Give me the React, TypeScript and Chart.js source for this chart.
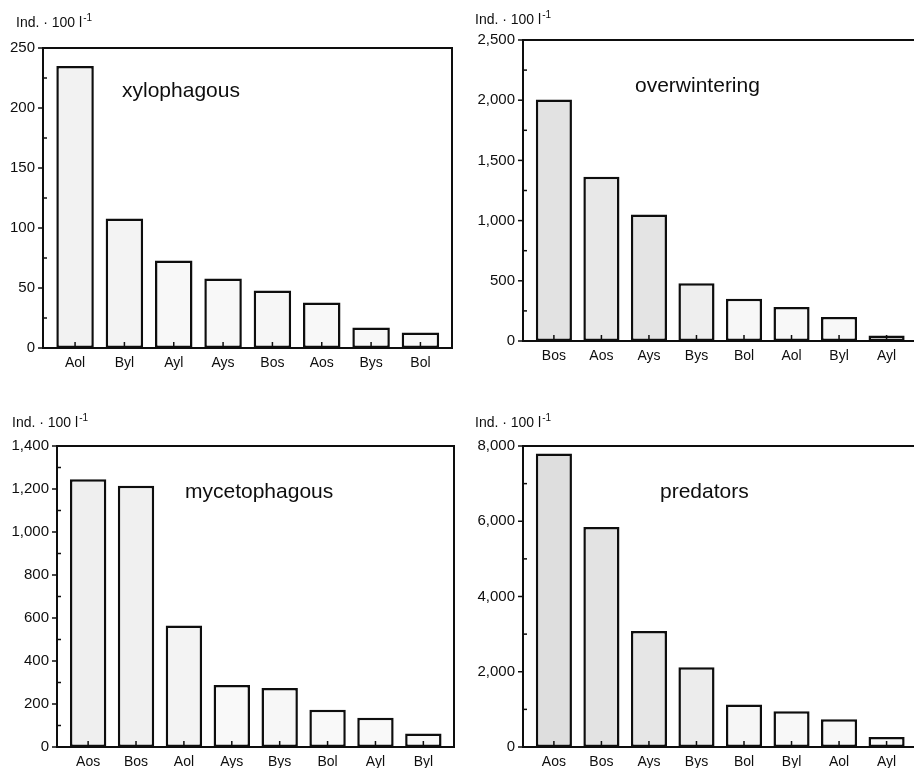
import React, { useEffect, useRef } from "react";
import { Chart, registerables } from "chart.js";
Chart.register(...registerables);

// ---- data ----
const xyloLabels = ["Aol", "Byl", "Ayl", "Ays", "Bos", "Aos", "Bys", "Bol"];
const xyloValues = [235, 108, 73, 58, 48, 38, 17, 13];

const overLabels = ["Bos", "Aos", "Ays", "Bys", "Bol", "Aol", "Byl", "Ayl"];
const overValues = [2005, 1365, 1050, 480, 350, 283, 200, 45];

const mycoLabels = ["Aos", "Bos", "Aol", "Ays", "Bys", "Bol", "Ayl", "Byl"];
const mycoValues = [1245, 1215, 565, 288, 275, 173, 136, 63];

const predLabels = ["Aos", "Bos", "Ays", "Bys", "Bol", "Byl", "Aol", "Ayl"];
const predValues = [7800, 5850, 3080, 2120, 1130, 950, 740, 265];

// ---- styles ----
const xyloColors = ["#f2f2f2", "#f3f3f3", "#f8f8f8", "#f8f8f8", "#f6f6f6", "#f8f8f8", "#f8f8f8", "#f8f8f8"];
const overColors = ["#e2e2e2", "#e8e8e8", "#e4e4e4", "#eeeeee", "#f7f7f7", "#f8f8f8", "#f8f8f8", "#f8f8f8"];
const mycoColors = ["#efefef", "#f0f0f0", "#f3f3f3", "#f9f9f9", "#f7f7f7", "#f9f9f9", "#f9f9f9", "#f9f9f9"];
const predColors = ["#dedede", "#e3e3e3", "#e6e6e6", "#ececec", "#f6f6f6", "#f8f8f8", "#f8f8f8", "#f8f8f8"];

const FONT = '"Liberation Sans", Arial, Helvetica, sans-serif';
const INK = "#0e0e0e";

type PanelProps = {
  labels: string[];
  values: number[];
  colors: string[];
  title: string;
  yMax: number;
  yMajor: number;
  comma: boolean;
  box: { left: number; top: number; width: number; height: number };
  area: { left: number; top: number; right: number; bottom: number };
  titleOff: { dx: number; dy: number };
  unitPos: { x: number; y: number };
};

function Panel(p: PanelProps) {
  const ref = useRef<HTMLCanvasElement | null>(null);
  useEffect(() => {
    const canvas = ref.current;
    if (!canvas) return;
    const yW = p.area.left;
    const xH = p.box.height - p.area.bottom;
    const decor = {
      id: "decor",
      afterDraw(chart: any) {
        const { ctx, chartArea: a } = chart;
        const ys = chart.scales.y;
        const xs = chart.scales.x;
        ctx.save();
        ctx.strokeStyle = INK;
        ctx.lineWidth = 2;
        ctx.strokeRect(a.left, a.top, a.right - a.left, a.bottom - a.top);
        ctx.lineWidth = 1.5;
        ys.ticks.forEach((t: any) => {
          const py = ys.getPixelForValue(t.value);
          const major = Math.abs(t.value % p.yMajor) < 1e-9;
          ctx.beginPath();
          if (major) {
            ctx.moveTo(a.left - 5, py);
            ctx.lineTo(a.left, py);
          } else {
            ctx.moveTo(a.left, py);
            ctx.lineTo(a.left + 4, py);
          }
          ctx.stroke();
        });
        p.labels.forEach((_, i) => {
          const px = xs.getPixelForValue(i);
          ctx.beginPath();
          ctx.moveTo(px, a.bottom);
          ctx.lineTo(px, a.bottom - 6);
          ctx.stroke();
        });
        ctx.fillStyle = INK;
        ctx.textBaseline = "middle";
        ctx.textAlign = "left";
        ctx.font = "21px " + FONT;
        ctx.fillText(p.title, a.left + p.titleOff.dx, a.top + p.titleOff.dy);
        ctx.font = "14px " + FONT;
        const unit = "Ind. \u00b7 100 l";
        ctx.fillText(unit, p.unitPos.x, p.unitPos.y);
        const w = ctx.measureText(unit).width;
        ctx.font = "10px " + FONT;
        ctx.fillText("-1", p.unitPos.x + w + 1, p.unitPos.y - 5);
        ctx.restore();
      },
    };
    const chart = new Chart(canvas, {
      type: "bar",
      data: {
        datasets: [
          {
            data: p.values.map((v, i) => ({ x: i, y: v })),
            backgroundColor: p.colors,
            borderColor: INK,
            borderWidth: 2.5,
            borderSkipped: false,
            barPercentage: 0.76,
            categoryPercentage: 1,
          },
        ],
      },
      options: {
        responsive: false,
        animation: false,
        devicePixelRatio: 1,
        layout: {
          padding: {
            left: 0,
            top: p.area.top,
            right: p.box.width - p.area.right,
            bottom: 0,
          },
        },
        plugins: {
          legend: { display: false },
          tooltip: { enabled: false },
          title: { display: false },
        },
        scales: {
          x: {
            type: "linear",
            min: -0.65,
            max: 7.64,
            offset: false,
            grid: { display: false, drawTicks: false },
            border: { display: false },
            afterFit: (s: any) => {
              s.height = xH;
            },
            ticks: {
              stepSize: 1,
              includeBounds: false,
              autoSkip: false,
              maxRotation: 0,
              padding: 7,
              color: INK,
              font: { family: FONT, size: 14 },
              callback: (v: any) => {
                const i = Math.round(Number(v));
                return Math.abs(Number(v) - i) < 1e-6 && p.labels[i] ? p.labels[i] : "";
              },
            },
          },
          y: {
            min: 0,
            max: p.yMax,
            grid: { display: false, drawTicks: false },
            border: { display: false },
            afterFit: (s: any) => {
              s.width = yW;
            },
            ticks: {
              stepSize: p.yMajor / 2,
              autoSkip: false,
              padding: 8,
              color: INK,
              font: { family: FONT, size: 15 },
              callback: (v: any) => {
                const n = Number(v);
                if (Math.abs(n % p.yMajor) > 1e-9) return "";
                return p.comma ? n.toLocaleString("en-US") : String(n);
              },
            },
          },
        },
      },
      plugins: [decor],
    } as any);
    return () => chart.destroy();
  }, []);
  return (
    <canvas
      ref={ref}
      width={p.box.width}
      height={p.box.height}
      style={{
        position: "absolute",
        left: p.box.left,
        top: p.box.top,
        width: p.box.width,
        height: p.box.height,
      }}
    />
  );
}

export default function App() {
  return (
    <div
      style={{
        position: "absolute",
        left: 0,
        top: 0,
        width: 914,
        height: 768,
        overflow: "hidden",
        background: "#fff",
      }}
    >
      <Panel
        labels={xyloLabels}
        values={xyloValues}
        colors={xyloColors}
        title="xylophagous"
        yMax={250}
        yMajor={50}
        comma={false}
        box={{ left: 0, top: 0, width: 460, height: 390 }}
        area={{ left: 43, top: 48, right: 452, bottom: 348 }}
        titleOff={{ dx: 79, dy: 43 }}
        unitPos={{ x: 16, y: 23 }}
      />
      <Panel
        labels={overLabels}
        values={overValues}
        colors={overColors}
        title="overwintering"
        yMax={2500}
        yMajor={500}
        comma={true}
        box={{ left: 460, top: 0, width: 470, height: 390 }}
        area={{ left: 63, top: 40, right: 457, bottom: 341 }}
        titleOff={{ dx: 112, dy: 46 }}
        unitPos={{ x: 15, y: 20 }}
      />
      <Panel
        labels={mycoLabels}
        values={mycoValues}
        colors={mycoColors}
        title="mycetophagous"
        yMax={1400}
        yMajor={200}
        comma={true}
        box={{ left: 0, top: 390, width: 460, height: 378 }}
        area={{ left: 57, top: 56, right: 454, bottom: 357 }}
        titleOff={{ dx: 128, dy: 46 }}
        unitPos={{ x: 12, y: 33 }}
      />
      <Panel
        labels={predLabels}
        values={predValues}
        colors={predColors}
        title="predators"
        yMax={8000}
        yMajor={2000}
        comma={true}
        box={{ left: 460, top: 390, width: 470, height: 378 }}
        area={{ left: 63, top: 56, right: 457, bottom: 357 }}
        titleOff={{ dx: 137, dy: 46 }}
        unitPos={{ x: 15, y: 33 }}
      />
    </div>
  );
}
